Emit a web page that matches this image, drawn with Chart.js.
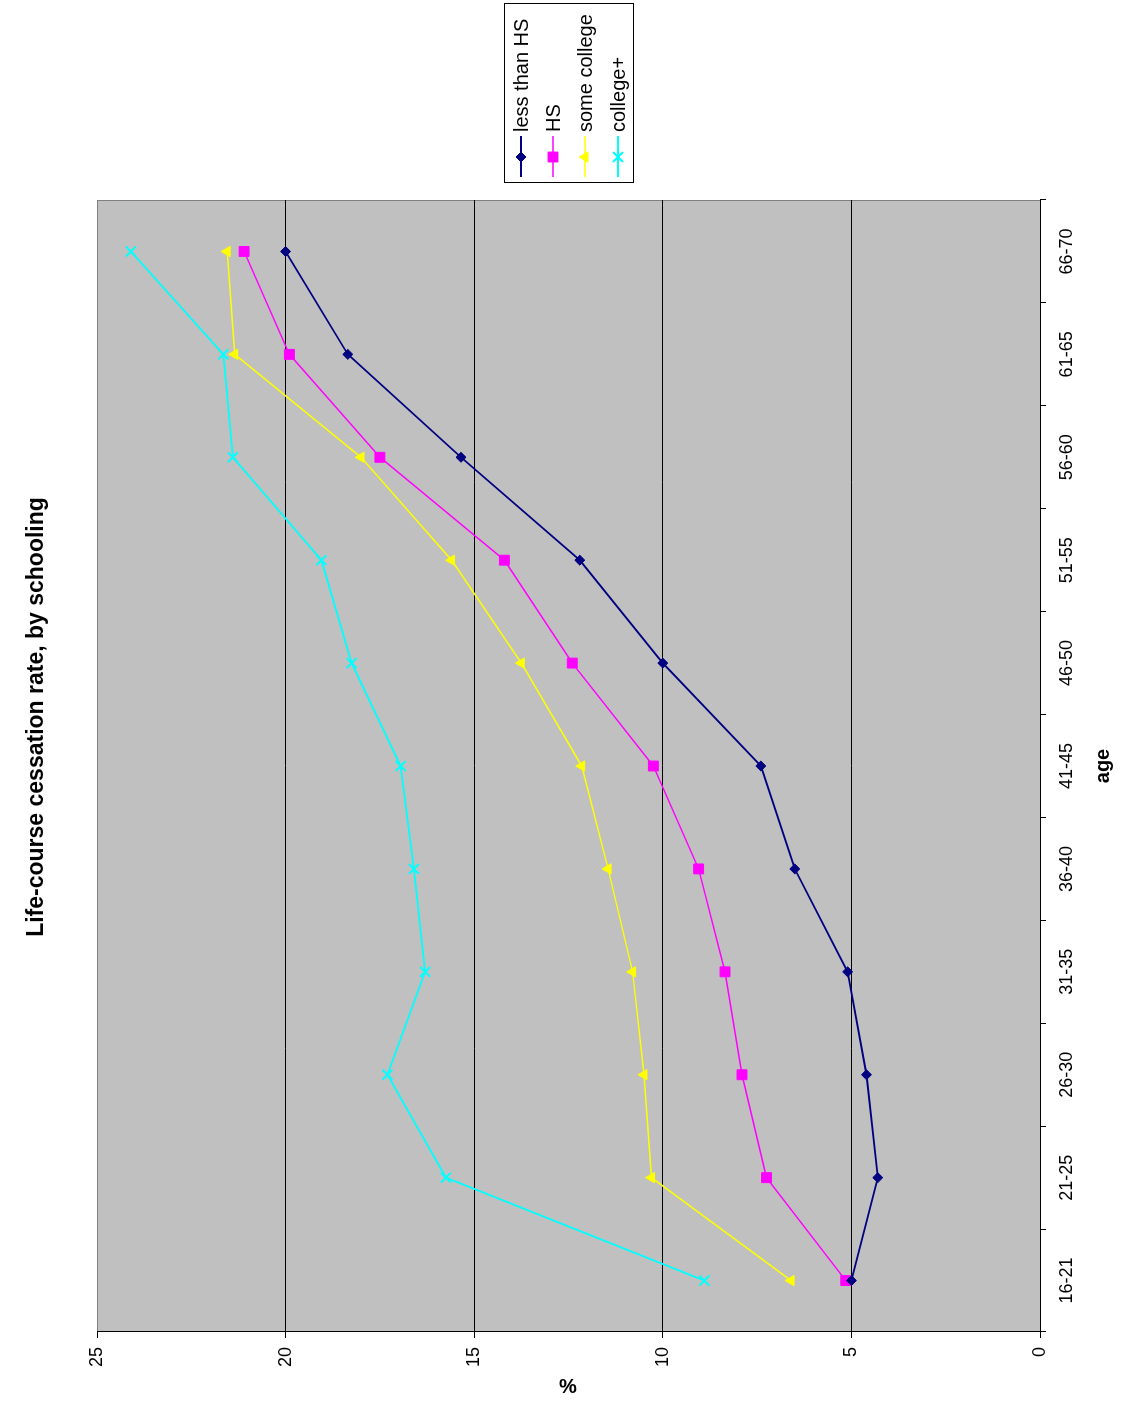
<!DOCTYPE html>
<html>
<head>
<meta charset="utf-8">
<title>Life-course cessation rate, by schooling</title>
<script src="https://cdn.jsdelivr.net/npm/chart.js@4.4.1/dist/chart.umd.min.js"></script>
<style>
  html, body { margin: 0; padding: 0; background: #fff; overflow: hidden; }
  /* chart is drawn upright, then turned a quarter left like the scan */
  #wrap {
    position: absolute; left: 0; top: 0;
    width: 1406px; height: 1123px;
    transform-origin: 0 0;
    transform: translateY(1406px) rotate(-90deg);
  }
</style>
</head>
<body>
<div id="wrap"><canvas id="cessationChart" width="1406" height="1123"></canvas></div>
<script>
// Data
const ageGroups = ['16-21', '21-25', '26-30', '31-35', '36-40', '41-45', '46-50', '51-55', '56-60', '61-65', '66-70'];
const lessThanHS = [5.0, 4.3, 4.6, 5.1, 6.5, 7.4, 10.0, 12.2, 15.35, 18.35, 20.0];
const highSchool = [5.15, 7.25, 7.9, 8.35, 9.05, 10.25, 12.4, 14.2, 17.5, 19.9, 21.1];
const someCollege = [6.6, 10.3, 10.5, 10.8, 11.45, 12.15, 13.75, 15.6, 18.0, 21.35, 21.55];
const collegePlus = [8.9, 15.75, 17.3, 16.3, 16.6, 16.95, 18.25, 19.05, 21.4, 21.65, 24.1];
const yTicks = [0, 5, 10, 15, 20, 25];

const FONT = '"Liberation Sans", Arial, sans-serif';
Chart.defaults.font.family = FONT;
Chart.defaults.color = '#000';

// grey plot area + title, % label and legend box like the Excel original
const excelBits = {
  id: 'excelBits',
  beforeDraw(chart) {
    const { ctx, chartArea: a } = chart;
    ctx.save();
    ctx.fillStyle = '#c0c0c0';
    ctx.fillRect(a.left, a.top, a.right - a.left, a.bottom - a.top);
    ctx.strokeStyle = '#808080';
    ctx.lineWidth = 1;
    ctx.strokeRect(a.left + 0.5, a.top + 0.5, a.right - a.left - 1, a.bottom - a.top);
    ctx.restore();
  },
  afterDraw(chart) {
    const { ctx } = chart;
    ctx.save();
    // title
    ctx.fillStyle = '#000';
    ctx.font = 'bold 23px ' + FONT;
    ctx.textAlign = 'center';
    ctx.textBaseline = 'middle';
    ctx.fillText('Life-course cessation rate, by schooling', 689, 37);
    // y axis title
    ctx.save();
    ctx.translate(19, 568);
    ctx.rotate(Math.PI / 2);
    ctx.font = 'bold 20px ' + FONT;
    ctx.fillText('%', 0, 0);
    ctx.restore();
    // legend
    ctx.strokeStyle = '#000';
    ctx.lineWidth = 1;
    ctx.strokeRect(1223.5, 504.5, 179, 129);
    ctx.font = '20px ' + FONT;
    ctx.textAlign = 'left';
    const rows = [521, 553, 585, 618];
    chart.data.datasets.forEach((ds, i) => {
      const y = rows[i];
      ctx.strokeStyle = ds.borderColor;
      ctx.fillStyle = ds.borderColor;
      ctx.lineWidth = ds.borderWidth;
      ctx.beginPath();
      ctx.moveTo(1229, y);
      ctx.lineTo(1270, y);
      ctx.stroke();
      ctx.lineWidth = ds.pointBorderWidth;
      Chart.helpers.drawPoint(ctx, {
        pointStyle: ds.pointStyle, radius: ds.pointRadius, borderWidth: ds.pointBorderWidth, rotation: 0
      }, 1249, y);
      ctx.fillStyle = '#000';
      ctx.fillText(ds.label, 1274, y + 1);
    });
    ctx.restore();
  }
};

function series(label, data, color, style, radius, width) {
  return {
    label: label,
    data: data,
    borderColor: color,
    backgroundColor: color,
    borderWidth: width,
    pointStyle: style,
    pointRadius: radius,
    pointBorderWidth: style === 'crossRot' ? 2 : 1,
    pointBackgroundColor: color,
    pointBorderColor: color,
    tension: 0,
    fill: false
  };
}

const ctx = document.getElementById('cessationChart').getContext('2d');
const cessationChart = new Chart(ctx, {
  type: 'line',
  data: {
    labels: ageGroups,
    datasets: [
      series('less than HS', lessThanHS, '#000080', 'rectRot', 5, 1.8),
      series('HS', highSchool, '#ff00ff', 'rect', 7, 1.5),
      series('some college', someCollege, '#ffff00', 'triangle', 6, 1.5),
      series('college+', collegePlus, '#00ffff', 'crossRot', 7, 1.8)
    ]
  },
  options: {
    responsive: false,
    animation: false,
    devicePixelRatio: 1,
    layout: { padding: { left: 0, right: 200, top: 97, bottom: 0 } },
    plugins: {
      legend: { display: false },
      title: { display: false },
      tooltip: { enabled: false }
    },
    scales: {
      x: {
        type: 'category',
        offset: true,
        grid: { offset: true, drawOnChartArea: false, drawTicks: true, tickLength: 6, tickColor: '#000' },
        border: { color: '#000', width: 1 },
        ticks: { font: { size: 18 }, padding: 10, maxRotation: 0, autoSkip: false },
        title: { display: true, text: 'age', font: { size: 20, weight: 'bold' }, padding: { top: 0, bottom: 8 } },
        afterFit: (scale) => { scale.height = 83; }
      },
      y: {
        min: 0,
        max: 25,
        afterBuildTicks: (scale) => { scale.ticks = yTicks.map(v => ({ value: v })); },
        grid: {
          color: (c) => (c.tick && c.tick.value === 25 ? '#808080' : '#000'),
          tickColor: '#000',
          tickLength: 6,
          lineWidth: 1
        },
        border: { color: '#000', width: 1 },
        ticks: { font: { size: 18 }, padding: 9 },
        afterFit: (scale) => { scale.width = 74; }
      }
    }
  },
  plugins: [excelBits]
});
</script>
</body>
</html>
